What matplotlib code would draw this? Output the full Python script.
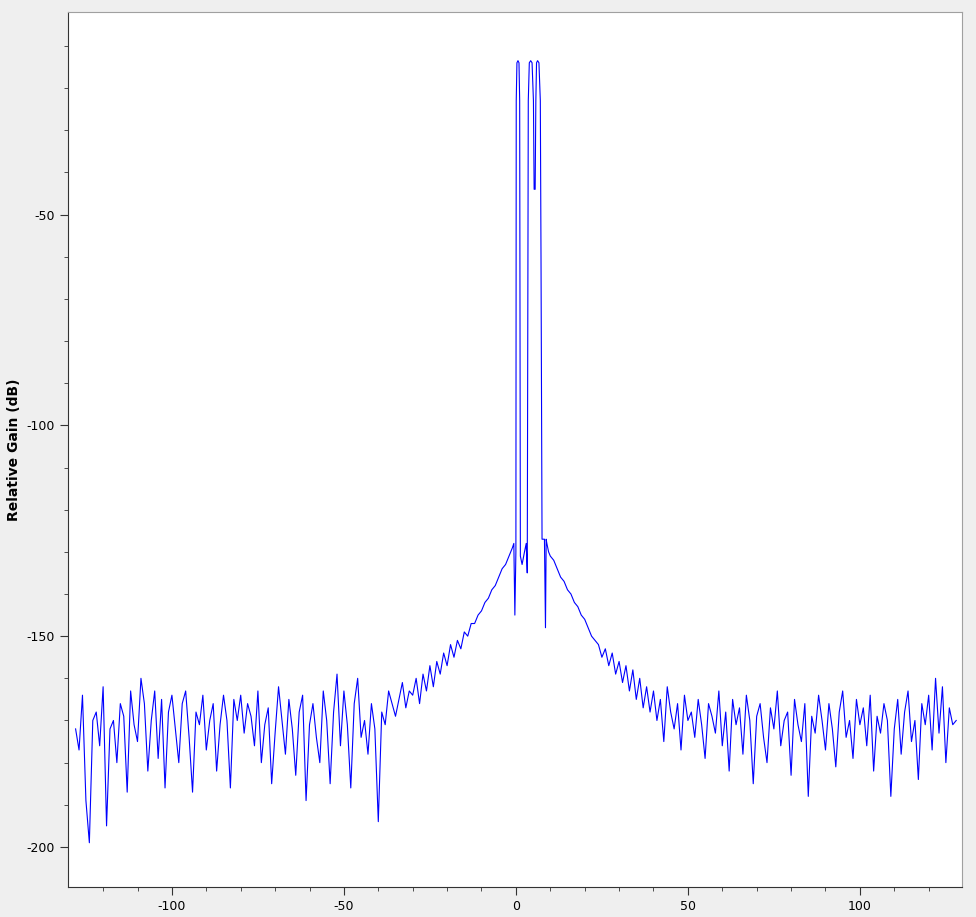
import numpy as np
import matplotlib.pyplot as plt

plt.rcParams['axes.unicode_minus'] = False

# noise floor, left side, one value per unit from -128
left_noise = [-172, -177, -164, -189, -199, -170, -168, -176, -162, -195,
              -172, -170, -180, -166, -169, -187, -163, -171, -175, -160,
              -166, -182, -170, -163, -179, -165, -186, -168, -164, -172,
              -180, -166, -163, -174, -187, -168, -171, -164, -177, -170,
              -166, -182, -171, -164, -170, -186, -165, -170, -164, -173,
              -166, -169, -176, -163, -180, -171, -167, -185, -173, -162,
              -170, -178, -165, -172, -183, -168, -164, -189, -171, -166,
              -174, -180, -163, -170, -185, -168, -159, -176, -163, -171,
              -186, -166, -160, -174, -170, -178, -166, -172, -194, -168,
              -171, -163, -166, -169, -165, -161, -167, -163]
left_skirt = [-164, -160, -166, -159, -163, -157, -162, -156, -159, -154,
              -157, -152, -155, -151, -153, -149, -150, -147, -147, -145,
              -144, -142, -141, -139, -138, -136, -134, -133, -131, -129]
center_x = [-0.6, -0.3, 0.0, 0.1, 0.3, 0.6, 0.9, 1.1, 1.3, 1.8, 2.5, 3.0, 3.3,
            3.6, 3.9, 4.3, 4.7, 5.1, 5.3, 5.6, 5.8, 6.0, 6.3, 6.7, 7.1, 7.3,
            7.6, 8.3, 8.6, 8.8, 9.0, 9.5]
center_y = [-128, -145, -130, -23, -14, -13.5, -14, -23, -131, -133, -130,
            -128, -135, -23, -14, -13.5, -14, -23, -44, -44, -23, -14, -13.5,
            -14, -23, -60, -127, -127, -148, -127, -128, -130]
right_skirt = [-131, -132, -134, -136, -137, -139, -140, -142, -143, -145,
               -146, -148, -150, -151, -152, -155, -153, -157, -154, -159,
               -156, -161, -157, -163, -158, -165, -160, -167, -162, -168]
right_noise = [-163, -170, -165, -175, -162, -168, -172, -166, -177, -164,
               -170, -168, -174, -165, -171, -179, -166, -169, -173, -163,
               -176, -168, -182, -165, -171, -167, -178, -164, -170, -185,
               -169, -166, -174, -180, -167, -172, -163, -176, -170, -168,
               -183, -165, -171, -175, -166, -188, -169, -173, -164, -170,
               -177, -166, -172, -181, -168, -163, -174, -170, -179, -165,
               -171, -167, -176, -164, -182, -169, -173, -166, -170, -188,
               -172, -165, -178, -168, -163, -175, -170, -184, -166, -171,
               -164, -177, -160, -173, -162, -180, -167, -171, -170]

freq = np.concatenate([np.arange(-128, -128 + len(left_noise)),
                       np.arange(-30, -30 + len(left_skirt)),
                       center_x,
                       np.arange(10, 10 + len(right_skirt)),
                       np.arange(40, 40 + len(right_noise))])
gain = np.concatenate([left_noise, left_skirt, center_y, right_skirt,
                       right_noise])

fig = plt.figure(figsize=(9.76, 9.17), dpi=100, facecolor='#efefef')
ax = fig.add_axes([0.0697, 0.0327, 0.916, 0.954])
ax.set_facecolor('white')
ax.plot(freq, gain, color='#0000ff', lw=0.8)
ax.set_xlim(-130.2, 129.7)
ax.set_ylim(-209.5, -2)
ax.set_xticks([-100, -50, 0, 50, 100])
ax.set_xticks(np.arange(-120, 130, 10), minor=True)
ax.set_yticks([-50, -100, -150, -200])
ax.set_yticks(np.arange(-200, 0, 10), minor=True)
ax.tick_params(labelsize=9, length=6, color='#333333')
ax.tick_params(which='minor', length=3, color='#333333')
ax.set_ylabel('Relative Gain (dB)', fontsize=10, fontweight='bold')
for s in ['top', 'right']:
    ax.spines[s].set_color('#a0a0a0')
for s in ['left', 'bottom']:
    ax.spines[s].set_color('#333333')
fig.savefig('out.png', dpi=100, facecolor=fig.get_facecolor())
